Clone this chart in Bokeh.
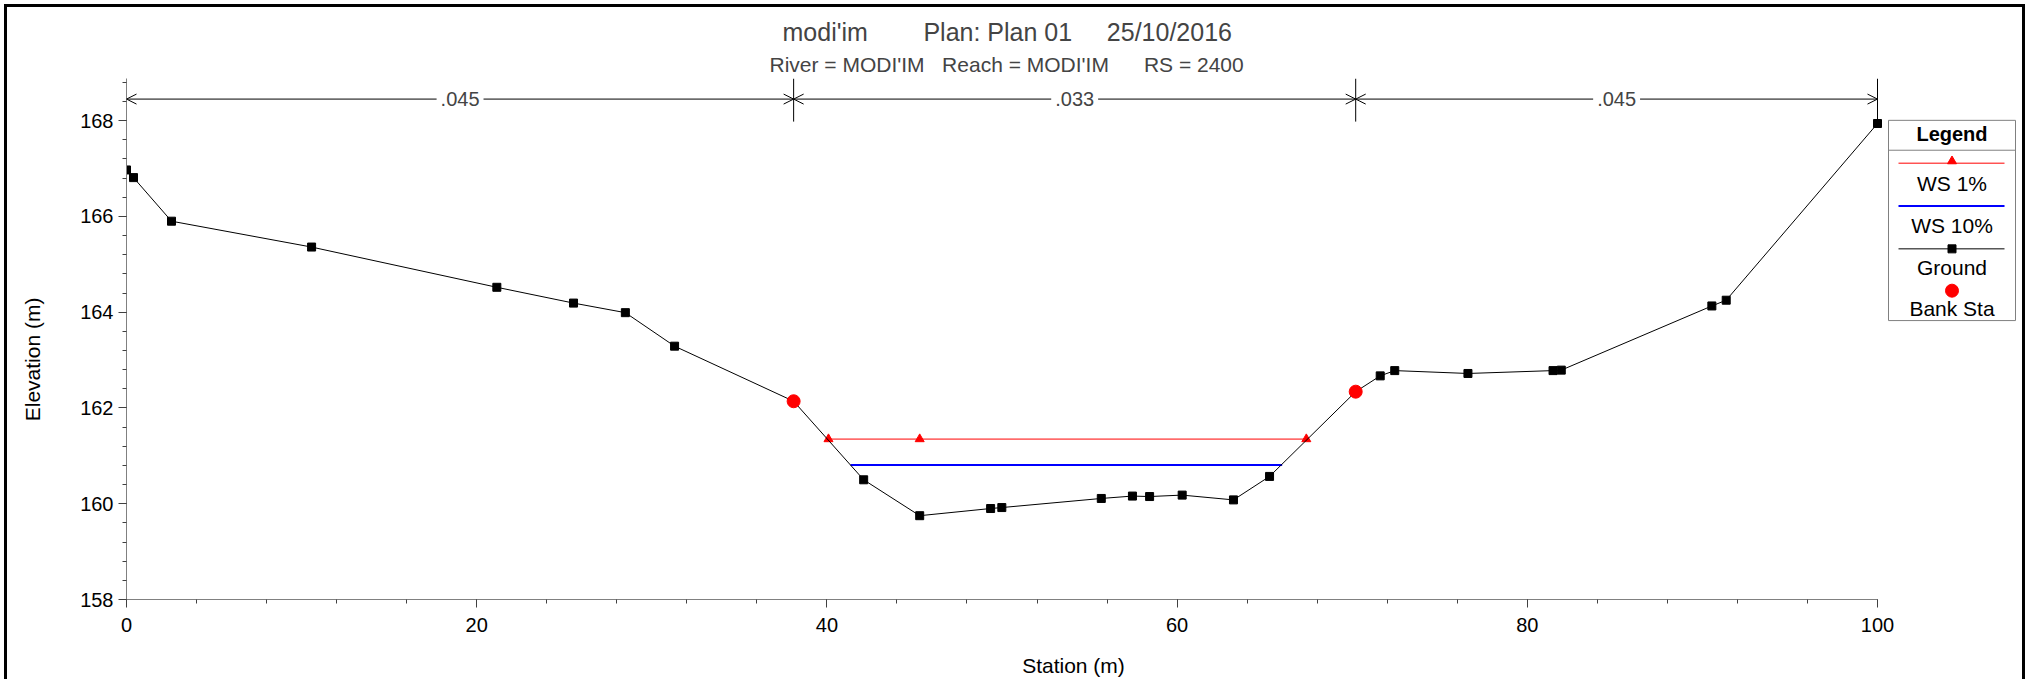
from bokeh.plotting import figure
from bokeh.models import Range1d, SingleIntervalTicker, Title, Arrow, OpenHead, Label, ColumnDataSource
from bokeh.layouts import row
from bokeh.embed import file_html
from bokeh.resources import INLINE
from bokeh.core.properties import value

FONT = "Liberation Sans"

# ---- data ----
station = [0.0, 0.4, 2.57, 10.57, 21.15, 25.53, 28.49, 31.3, 38.1, 42.1, 45.3, 49.35, 49.99,
           55.67, 57.45, 58.43, 60.29, 63.22, 65.28, 70.2, 71.6, 72.43, 76.61, 81.47, 81.94,
           90.54, 91.36, 100.0]
elevation = [166.97, 166.81, 165.90, 165.36, 164.52, 164.19, 163.99, 163.29, 162.14, 160.50,
             159.75, 159.90, 159.92, 160.11, 160.16, 160.15, 160.18, 160.08, 160.57, 162.34,
             162.67, 162.78, 162.72, 162.78, 162.79, 164.13, 164.25, 167.94]
ws1_station = [40.09, 45.3, 67.38]
ws1_elev = [161.35, 161.35, 161.35]
ws10_station = [41.35, 66.0]
ws10_elev = [160.81, 160.81]
bank_station = [38.1, 70.2]
bank_elev = [162.14, 162.34]
n_breaks = [0.0, 38.1, 70.2, 100.0]
n_labels = [".045", ".033", ".045"]
n_level = 168.45
n_bar_bottom = 167.98
x_ticks_interval = 20
y_ticks_interval = 2
legend_labels = ["WS 1%", "WS 10%", "Ground", "Bank Sta"]

title_text = "modi'im" + "\u00a0" * 8 + "Plan: Plan 01" + "\u00a0" * 5 + "25/10/2016"
subtitle_text = "River = MODI'IM" + "\u00a0" * 3 + "Reach = MODI'IM" + "\u00a0" * 6 + "RS = 2400"

# ---- geometry (page pixels) ----
ORIGIN = 7                  # canvas origin after 4px margin + 3px border
FRAME_L, FRAME_R, FRAME_T, FRAME_B = 126, 2020, 78, 601
W, H = 2015, 672
X0, X100 = 126.0, 1877.0    # page x of station 0 and 100
Y_BOTTOM, Y_TOP = 158.0, 168.88
x_end = (FRAME_R - X0) / ((X100 - X0) / 100.0)

p = figure(width=W, height=H, x_range=Range1d(0, x_end), y_range=Range1d(Y_BOTTOM, Y_TOP),
           output_backend="svg", toolbar_location=None, title=None,
           min_border_left=FRAME_L - ORIGIN, min_border_right=ORIGIN + W - FRAME_R,
           min_border_top=FRAME_T - ORIGIN, min_border_bottom=ORIGIN + H - FRAME_B)
p.outline_line_color = None
p.grid.visible = False
p.background_fill_color = "white"
p.border_fill_color = "white"
p.extra_x_ranges = {"px": Range1d(FRAME_L, FRAME_R)}
p.extra_y_ranges = {"py": Range1d(FRAME_B, FRAME_T)}

p.xaxis.ticker = SingleIntervalTicker(interval=x_ticks_interval, num_minor_ticks=5)
p.yaxis.ticker = SingleIntervalTicker(interval=y_ticks_interval, num_minor_ticks=5)
p.xaxis.bounds = (0, 100)
p.yaxis.bounds = (Y_BOTTOM, Y_TOP)
for ax in (p.xaxis, p.yaxis):
    ax.axis_line_color = "#808080"
    ax.major_tick_line_color = "#404040"
    ax.minor_tick_line_color = "#404040"
    ax.major_tick_in = 0
    ax.major_tick_out = 8
    ax.minor_tick_in = 0
    ax.minor_tick_out = 4
    ax.major_label_text_font = FONT
    ax.major_label_text_font_size = "20px"
    ax.major_label_text_color = "black"
    ax.axis_label_text_font = FONT
    ax.axis_label_text_font_size = "21px"
    ax.axis_label_text_font_style = "normal"
    ax.axis_label_text_color = "black"
p.xaxis.axis_label = "Station (m)"
# trailing no-break spaces centre the label on the 158-168 tick span, as in the original
p.yaxis.axis_label = "Elevation (m)" + "\u00a0" * 7
p.xaxis.major_label_standoff = 10
p.yaxis.major_label_standoff = 5
p.xaxis.axis_label_standoff = 19
p.yaxis.axis_label_standoff = 33

p.add_layout(Title(text=subtitle_text, align="left", offset=643, text_font=FONT,
                   text_font_size="21px", text_font_style="normal", standoff=6), "above")
p.add_layout(Title(text=title_text, align="left", offset=656, text_font=FONT,
                   text_font_size="25px", text_font_style="normal", standoff=4), "above")

# water surfaces
p.line(ws1_station, ws1_elev, line_color="red", line_width=1)
p.scatter(ws1_station, ws1_elev, marker="triangle", size=9, color="red")
p.line(ws10_station, ws10_elev, line_color="#0000ff", line_width=2)

# ground
g = ColumnDataSource(dict(x=station, y=elevation))
p.line("x", "y", source=g, line_color="black", line_width=1)
p.scatter("x", "y", source=g, marker="square", size=8, color="black")

# bank stations
p.scatter(bank_station, bank_elev, marker="circle", size=13, color="red")

# Manning's n bar
bar_x = n_breaks[1:]
p.segment(x0=bar_x, y0=[n_bar_bottom] * len(bar_x), x1=bar_x, y1=[Y_TOP] * len(bar_x),
          line_color="black", line_width=1)
for i in range(len(n_labels)):
    a, b = n_breaks[i], n_breaks[i + 1]
    p.add_layout(Arrow(x_start=a, y_start=n_level, x_end=b, y_end=n_level,
                       start=OpenHead(size=10, line_width=1), end=OpenHead(size=10, line_width=1),
                       line_width=1, line_color="black"))
for i in range(len(n_labels)):
    a, b = n_breaks[i], n_breaks[i + 1]
    p.add_layout(Label(x=(a + b) / 2, y=n_level, text=n_labels[i], text_align="center",
                       text_baseline="middle", text_font=FONT, text_font_size="20px",
                       background_fill_color="white", padding=4))

# ---- legend box (drawn in page-pixel ranges) ----
kw = dict(x_range_name="px", y_range_name="py")
bx0, bx1, by0, by1 = 1888, 2015, 120, 321
cx = (bx0 + bx1) / 2
p.quad(left=[bx0], right=[bx1], top=[by0], bottom=[by1], fill_color="white",
       line_color="#808080", line_width=1, **kw)
p.segment(x0=[bx0], y0=[150], x1=[bx1], y1=[150], line_color="#808080", line_width=1, **kw)
p.text(x=[cx], y=[134], text=["Legend"], text_font=value(FONT), text_font_size="20px",
       text_font_style="bold", text_align="center", text_baseline="middle", **kw)
lx0, lx1 = 1898, 2004
p.segment(x0=[lx0], y0=[163], x1=[lx1], y1=[163], line_color="red", line_width=1, **kw)
p.scatter([cx], [161], marker="triangle", size=9, color="red", **kw)
p.segment(x0=[lx0], y0=[206], x1=[lx1], y1=[206], line_color="#0000ff", line_width=2, **kw)
p.segment(x0=[lx0], y0=[249], x1=[lx1], y1=[249], line_color="black", line_width=1, **kw)
p.scatter([cx], [249], marker="square", size=8, color="black", **kw)
p.scatter([cx], [291], marker="circle", size=13, color="red", **kw)
p.text(x=[cx] * 4, y=[183, 226, 268, 309], text=legend_labels, text_font=value(FONT),
       text_font_size="21px", text_align="center", text_baseline="middle", **kw)

layout = row(p, styles={"margin": "4px 0 0 4px", "border-left": "3px solid black",
                        "border-top": "3px solid black", "border-right": "3px solid black"})

open("out.html", "w").write(file_html(layout, INLINE))
